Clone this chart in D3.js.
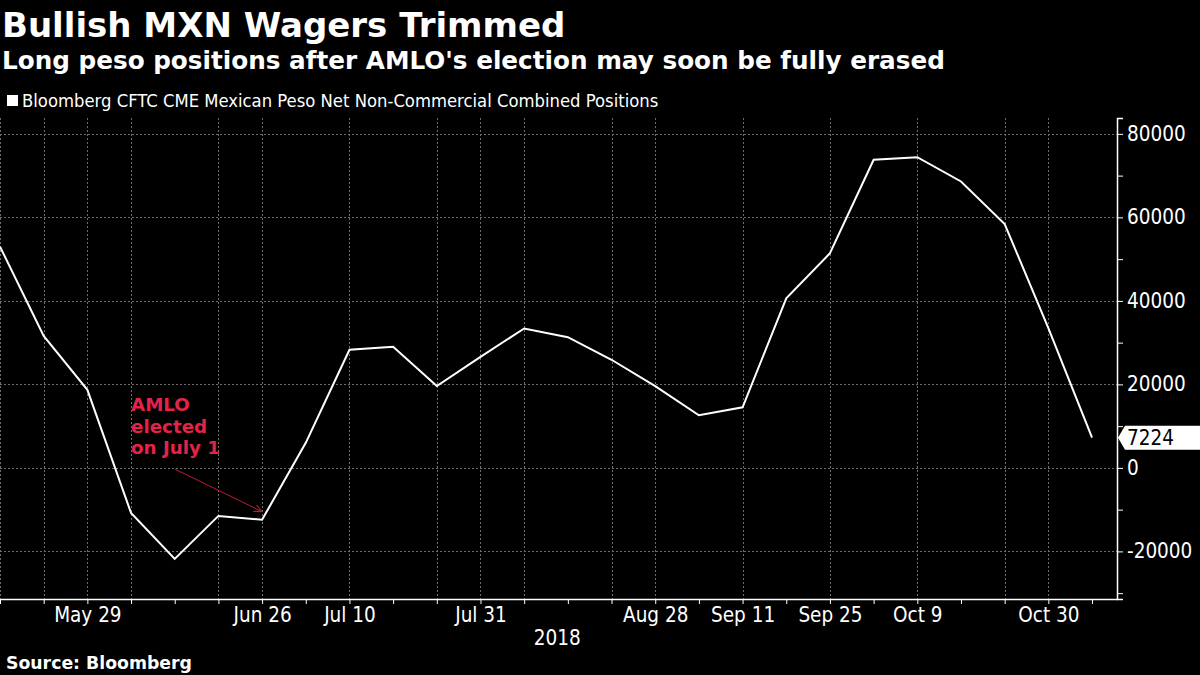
<!DOCTYPE html>
<html lang="en">
<head>
  <meta charset="UTF-8">
  <title>Bullish MXN Wagers Trimmed</title>
  <script src="https://d3js.org/d3.v7.min.js"></script>
  <style>
    html, body { margin: 0; padding: 0; background: #000; }
    svg { display: block; }
    .title { font-family: "DejaVu Sans", sans-serif; font-weight: bold; }
    .cond { font-family: "DejaVu Sans Condensed", "DejaVu Sans", sans-serif; font-stretch: condensed; }
  </style>
</head>
<body>
<svg id="chart" width="1200" height="675"></svg>
<script>
  // weekly CFTC positions (contracts)
  const dates = ['2018-05-15', '2018-05-22', '2018-05-29', '2018-06-05', '2018-06-12', '2018-06-19',
    '2018-06-26', '2018-07-03', '2018-07-10', '2018-07-17', '2018-07-24', '2018-07-31',
    '2018-08-07', '2018-08-14', '2018-08-21', '2018-08-28', '2018-09-04', '2018-09-11',
    '2018-09-18', '2018-09-25', '2018-10-02', '2018-10-09', '2018-10-16', '2018-10-23',
    '2018-10-30', '2018-11-06'];
  const positions = [53000, 31600, 18700, -10800, -21800, -11500, -12400, 6000, 28300, 29000,
    19600, 26600, 33400, 31300, 25900, 19600, 12600, 14500, 40600, 51400,
    73800, 74400, 68600, 58400, 33500, 7224];
  const labelDates = ['2018-05-29', '2018-06-26', '2018-07-10', '2018-07-31', '2018-08-28',
    '2018-09-11', '2018-09-25', '2018-10-09', '2018-10-30'];
  const gridDates = ['2018-05-15', '2018-05-22', '2018-05-29', '2018-06-05', '2018-06-19',
    '2018-06-26', '2018-07-10', '2018-07-24', '2018-07-31', '2018-08-07', '2018-08-21',
    '2018-08-28', '2018-09-11', '2018-09-25', '2018-10-09', '2018-10-23', '2018-10-30'];
  const yTicks = [-30000, -20000, -10000, 0, 10000, 20000, 30000, 40000, 50000, 60000, 70000, 80000];
  const yLabelTicks = [-20000, 0, 20000, 40000, 60000, 80000];

  const parse = d3.utcParse('%Y-%m-%d');
  const data = dates.map((d, i) => ({ date: parse(d), value: positions[i] }));

  const svg = d3.select('#chart');
  svg.append('rect').attr('width', 1200).attr('height', 675).attr('fill', '#000');

  const plot = { left: 0, right: 1117, top: 118, bottom: 599 };

  const x = d3.scaleUtc()
    .domain([parse('2018-05-15'), parse('2018-11-10')])
    .range([plot.left, plot.right]);
  const y = d3.scaleLinear()
    .domain([-31400, 83800])
    .range([plot.bottom, plot.top]);

  // headings
  svg.append('text').attr('class', 'title').attr('x', 2).attr('y', 37)
    .attr('fill', '#fff').style('font-size', '34px').text('Bullish MXN Wagers Trimmed');
  svg.append('text').attr('class', 'title').attr('x', 2).attr('y', 69)
    .attr('fill', '#fff').style('font-size', '24.7px').text("Long peso positions after AMLO's election may soon be fully erased");

  // legend
  svg.append('rect').attr('x', 7).attr('y', 95).attr('width', 11).attr('height', 11).attr('fill', '#fff');
  svg.append('text').attr('class', 'cond').attr('x', 22).attr('y', 107)
    .style('font-size', '18.3px').attr('fill', '#fff')
    .text('Bloomberg CFTC CME Mexican Peso Net Non-Commercial Combined Positions');

  // grid
  const grid = svg.append('g').attr('stroke', '#8a8a8a').attr('stroke-width', 1)
    .attr('stroke-dasharray', '2,2').attr('opacity', 0.8);
  grid.selectAll('.vg').data(gridDates).enter().append('line')
    .attr('x1', d => Math.round(x(parse(d))) + 0.5).attr('x2', d => Math.round(x(parse(d))) + 0.5)
    .attr('y1', plot.top).attr('y2', plot.bottom);
  grid.selectAll('.hg').data(yLabelTicks).enter().append('line')
    .attr('x1', plot.left).attr('x2', plot.right)
    .attr('y1', d => Math.round(y(d)) + 0.5).attr('y2', d => Math.round(y(d)) + 0.5);

  // x axis
  const xAxis = d3.axisBottom(x)
    .tickValues(data.map(d => d.date))
    .tickSize(5)
    .tickPadding(3)
    .tickFormat(d => labelDates.includes(d3.utcFormat('%Y-%m-%d')(d)) ? d3.utcFormat('%b %-d')(d) : '');
  const gx = svg.append('g').attr('transform', `translate(0,${plot.bottom})`).call(xAxis);
  gx.select('.domain').remove();
  gx.selectAll('line').attr('stroke', '#fff');
  gx.selectAll('text').attr('class', 'cond').attr('fill', '#fff').style('font-size', '20.5px');
  svg.append('line').attr('x1', plot.left).attr('x2', plot.right + 0.5)
    .attr('y1', plot.bottom + 0.5).attr('y2', plot.bottom + 0.5)
    .attr('stroke', '#fff').attr('stroke-width', 1.5);
  svg.append('text').attr('class', 'cond').attr('x', x(parse('2018-08-07')) + 33).attr('y', 645)
    .attr('text-anchor', 'middle').attr('fill', '#fff').style('font-size', '20.5px').text('2018');

  // y axis
  const yAxis = d3.axisRight(y)
    .tickValues(yTicks)
    .tickSize(6)
    .tickPadding(4)
    .tickFormat(d => yLabelTicks.includes(d) ? String(d) : '');
  const gy = svg.append('g').attr('transform', `translate(${plot.right},0)`).call(yAxis);
  gy.select('.domain').attr('stroke', '#fff').attr('stroke-width', 1.5);
  gy.selectAll('line').attr('stroke', '#fff');
  gy.selectAll('text').attr('class', 'cond').attr('fill', '#fff').style('font-size', '20.5px');

  // series
  const line = d3.line().x(d => x(d.date)).y(d => y(d.value));
  svg.append('path').datum(data).attr('d', line)
    .attr('fill', 'none').attr('stroke', '#fff').attr('stroke-width', 2).attr('stroke-linejoin', 'miter');

  // last value tag
  const last = data[data.length - 1];
  const ly = y(last.value);
  svg.append('path')
    .attr('d', `M${plot.right + 1},${ly} L${plot.right + 8},${ly - 12} L1200,${ly - 12} L1200,${ly + 12} L${plot.right + 8},${ly + 12} Z`)
    .attr('fill', '#fff');
  svg.append('text').attr('class', 'cond').attr('x', plot.right + 10).attr('y', ly + 7.5)
    .attr('fill', '#000').style('font-size', '20.5px').text(String(last.value));

  // annotation
  const red = '#e3234a';
  const ax = x(data[3].date);
  const ann = svg.append('text').attr('class', 'title').attr('fill', red).style('font-size', '18.3px');
  ['AMLO', 'elected', 'on July 1'].forEach((t, i) => {
    ann.append('tspan').attr('x', ax).attr('y', 411 + i * 21.5).text(t);
  });
  svg.append('defs').append('marker')
    .attr('id', 'arrow').attr('viewBox', '0 0 10 10').attr('refX', 9).attr('refY', 5)
    .attr('markerWidth', 9).attr('markerHeight', 9).attr('orient', 'auto')
    .append('path').attr('d', 'M0,1 L9,5 L0,9').attr('fill', 'none').attr('stroke', '#c01a30').attr('stroke-width', 1.2);
  const target = data[6];
  svg.append('line')
    .attr('x1', x(data[4].date)).attr('y1', 469)
    .attr('x2', x(target.date)).attr('y2', y(target.value) - 8)
    .attr('stroke', '#c01a30').attr('stroke-width', 1)
    .attr('marker-end', 'url(#arrow)');

  // source
  svg.append('text').attr('class', 'title').attr('x', 6).attr('y', 669)
    .attr('fill', '#fff').style('font-size', '17.3px').text('Source: Bloomberg');
</script>
</body>
</html>
